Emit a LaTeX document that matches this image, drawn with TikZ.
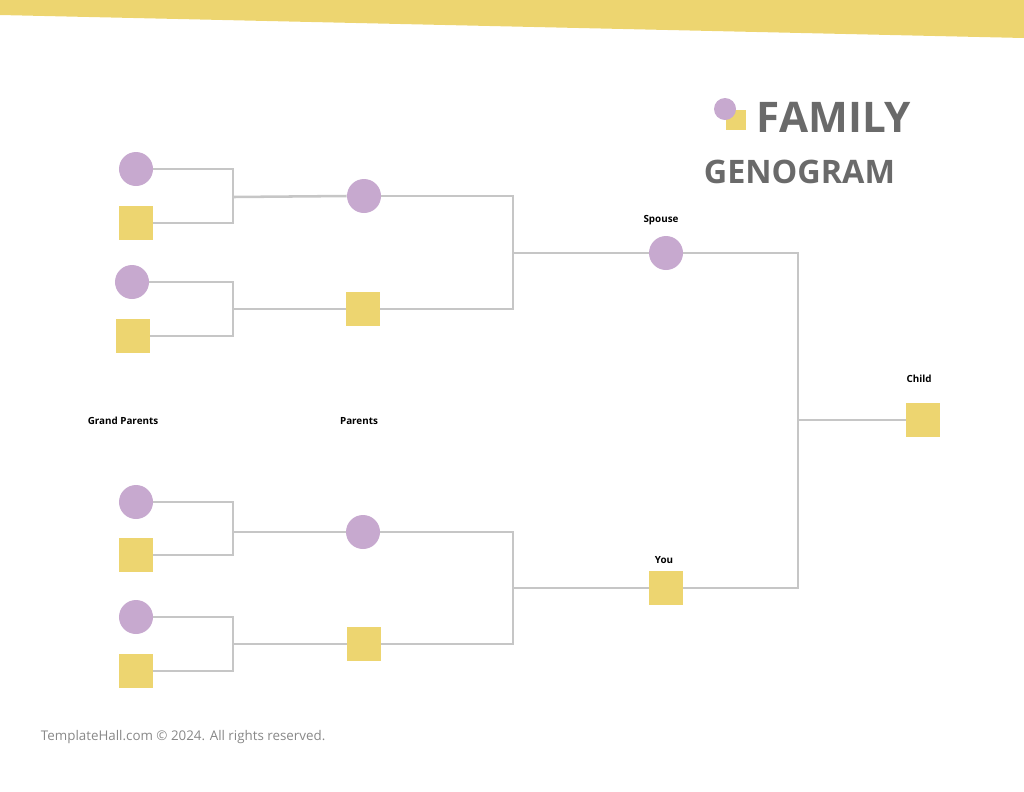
\documentclass[tikz,border=0pt]{standalone}
\usepackage{fontspec}
\setmainfont{Open Sans}
\definecolor{lilac}{HTML}{C7A9CF}
\definecolor{sand}{HTML}{EDD570}
\definecolor{wire}{HTML}{C6C6C6}
\definecolor{ink}{HTML}{6A6A6A}
\tikzset{
  female/.style={circle, fill=lilac, minimum size=0.85cm, inner sep=0pt},
  male/.style={rectangle, fill=sand, minimum size=0.85cm, inner sep=0pt},
  tag/.style={font=\bfseries\fontsize{7}{8}\selectfont, text=black},
  link/.style={draw=wire, line width=1.8pt}
}
\begin{document}
\begin{tikzpicture}[x=0.025cm, y=-0.025cm]
    \useasboundingbox (0,0) rectangle (1024,791);
    %Place top band
    \fill[sand] (0,0) -- (1024,0) -- (1024,38) -- (0,15) -- cycle;

    %Place title
    \node[male, minimum size=0.52cm] (logo-sq) at (736,120) {};
    \node[female, minimum size=0.55cm] (logo-ci) at (725,109) {};
    \node[anchor=west, text=ink, font=\bfseries\fontsize{30}{32}\selectfont] (title-a) at (752,117) {FAMILY};
    \node[anchor=east, text=ink, font=\bfseries\fontsize{23}{26}\selectfont] (title-b) at (900,172) {GENOGRAM};

    %Place grand parents nodes
    \node[female] (gp1) at (136,169) {};
    \node[male] (gp2) at (136,223) {};
    \node[female] (gp3) at (132,282) {};
    \node[male] (gp4) at (133,336) {};
    \node[female] (gp5) at (136,502) {};
    \node[male] (gp6) at (136,555) {};
    \node[female] (gp7) at (136,617) {};
    \node[male] (gp8) at (136,671) {};

    %Place parents nodes
    \node[female] (p1) at (364,196) {};
    \node[male] (p2) at (363,309) {};
    \node[female] (p3) at (363,532) {};
    \node[male] (p4) at (364,644) {};

    %Place spouse, you and child nodes
    \node[female] (spouse) at (666,253) {};
    \node[male] (you) at (666,588) {};
    \node[male] (child) at (923,420) {};

    %Place labels
    \node[tag] (l-spouse) at (661,220) {Spouse};
    \node[tag] (l-you) at (664,560) {You};
    \node[tag] (l-child) at (919,379) {Child};
    \node[tag] (l-gp) at (123,421) {Grand Parents};
    \node[tag] (l-p) at (359,421) {Parents};

    %Place junction points
    \coordinate (j1) at (233,197);
    \coordinate (j2) at (233,309);
    \coordinate (j3) at (233,532);
    \coordinate (j4) at (233,644);
    \coordinate (j5) at (513,253);
    \coordinate (j6) at (513,588);
    \coordinate (j7) at (798,420);

    %Draw connectors
    \draw[link] (gp1.east) -| (j1) |- (gp2.east);
    \draw[link] (gp3.east) -| (j2) |- (gp4.east);
    \draw[link] (gp5.east) -| (j3) |- (gp6.east);
    \draw[link] (gp7.east) -| (j4) |- (gp8.east);
    \draw[link] (j1) -- (p1.west);
    \draw[link] (j2) -- (p2.west);
    \draw[link] (j3) -- (p3.west);
    \draw[link] (j4) -- (p4.west);
    \draw[link] (p1.east) -| (j5) |- (p2.east);
    \draw[link] (p3.east) -| (j6) |- (p4.east);
    \draw[link] (j5) -- (spouse.west);
    \draw[link] (j6) -- (you.west);
    \draw[link] (spouse.east) -| (j7) |- (you.east);
    \draw[link] (j7) -- (child.west);

    %Place footer
    \node[anchor=west, text=ink!80, font=\fontsize{9.5}{11}\selectfont] (footer) at (36,737) {TemplateHall.com © 2024. All rights reserved.};
\end{tikzpicture}
\end{document}
